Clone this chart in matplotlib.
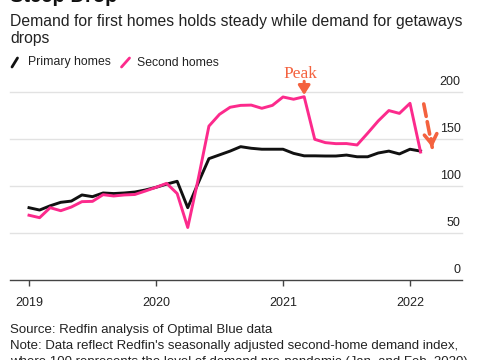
import matplotlib
matplotlib.use("Agg")
import matplotlib.pyplot as plt
import matplotlib.transforms as mtransforms
from matplotlib.lines import Line2D

# ---------------- data ----------------
months = list(range(38))  # Jan 2019 .. Feb 2022 (monthly index)
primary = [77, 74.5, 79, 82.7, 84, 90.5, 88.7, 92.6, 92, 92.6, 93.6, 95.8,
           98.6, 102, 105, 77, 103.5, 129, 133, 137, 141.7, 140, 139, 139,
           139, 134.6, 132, 132, 131.8, 131.8, 132.8, 131, 131, 135, 137, 134,
           139, 137]
second = [69, 66.4, 77, 73.8, 77.7, 83.4, 83.7, 90.8, 89.4, 90.5, 91, 94.7,
          98.6, 102.8, 92, 56, 108, 163.5, 176, 183.5, 185.5, 185.8, 182.4, 185.5,
          194.4, 192, 194.7, 149.5, 146, 144.9, 145, 143.5, 156, 169, 180, 177,
          187.7, 136]
year_ticks = [0, 12, 24, 36]
year_labels = ["2019", "2020", "2021", "2022"]
y_ticks = [0, 50, 100, 150, 200]
series_names = ["Primary homes", "Second homes"]

title = "Steep Drop"
subtitle_lines = ["Demand for first homes holds steady while demand for getaways",
                  "drops"]
source_lines = ["Source: Redfin analysis of Optimal Blue data",
                "Note: Data reflect Redfin's seasonally adjusted second-home demand index,",
                "where 100 represents the level of demand pre-pandemic (Jan. and Feb. 2020)"]

# ---------------- style ----------------
BLACK = "#111111"
PINK = "#fc2a8c"
CORAL = "#f4623f"
GRID = "#e2e2e2"
TXT = "#222222"
plt.rcParams["font.family"] = ["Liberation Sans", "DejaVu Sans"]

W, H = 480, 360
fig = plt.figure(figsize=(4.8, 3.6), dpi=100)

def fx(px):
    return px / W

def fy(py):
    return 1 - py / H

ax_left, ax_right, ax_top, ax_bottom = 10, 462, 91.7, 280.3
ax = fig.add_axes([fx(ax_left), fy(ax_bottom), fx(ax_right - ax_left),
                   (ax_bottom - ax_top) / H])

px_per_month = 127 / 12.0
x0 = 29
ax.set_xlim((ax_left - x0) / px_per_month, (ax_right - x0) / px_per_month)
ax.set_ylim(0, 200)

for v in y_ticks[1:]:
    ax.axhline(v, color=GRID, lw=1.0, zorder=0, clip_on=False)

ax.plot(months, primary, color=BLACK, lw=2.1, solid_joinstyle="round", zorder=3)
ax.plot(months, second, color=PINK, lw=2.1, solid_joinstyle="round", zorder=4)

for s in ["top", "right", "left"]:
    ax.spines[s].set_visible(False)
ax.spines["bottom"].set_color("#444444")
ax.spines["bottom"].set_linewidth(1.0)

ax.set_xticks(year_ticks)
ax.set_xticklabels(year_labels)
ax.tick_params(axis="x", length=4, width=1, color="#444444", pad=8,
               labelsize=9, labelcolor=TXT)
ax.set_yticks([])

# y labels above gridlines on the right
trans = mtransforms.offset_copy(ax.get_yaxis_transform(), fig=fig, x=-1, y=5, units="points")
for v in y_ticks:
    ax.text(1.0, v, str(v), transform=trans, ha="right", va="baseline",
            fontsize=9, color=TXT)

# Peak annotation
ax.annotate("", xy=(26.0, 196.5), xytext=(26.0, 211), annotation_clip=False,
            arrowprops=dict(arrowstyle="-|>,head_length=0.55,head_width=0.35",
                            color=CORAL, lw=2.2, shrinkA=0, shrinkB=0))
ax.text(25.6, 215, "Peak", color=CORAL, fontsize=12.5, ha="center", va="baseline",
        family=["Liberation Serif", "DejaVu Serif"], clip_on=False)

# dashed drop arrow
ax.annotate("", xy=(38.1, 141), xytext=(37.3, 187), annotation_clip=False,
            arrowprops=dict(arrowstyle="-", color=CORAL, lw=2.6,
                            linestyle=(0, (3.5, 1.5)), shrinkA=0, shrinkB=0))
ax.annotate("", xy=(38.1, 141), xytext=(38.0, 150), annotation_clip=False,
            arrowprops=dict(arrowstyle="->,head_length=0.7,head_width=0.45",
                            color=CORAL, lw=2.6, shrinkA=0, shrinkB=0))

# legend (slanted markers)
for (x1, x2), name, col, tx in [((12, 17.5), series_names[0], BLACK, 28),
                                ((121.5, 129.5), series_names[1], PINK, 137)]:
    fig.add_artist(Line2D([fx(x1), fx(x2)], [fy(67), fy(58)], color=col, lw=2.0,
                          transform=fig.transFigure, solid_capstyle="round"))
    fig.text(fx(tx), fy(62.5), name, fontsize=8.8, color=TXT, va="center", ha="left")

# titles
fig.text(fx(10), fy(2), title, fontsize=14.5, fontweight="bold", color="#111111",
         va="baseline", ha="left")
for line, base in zip(subtitle_lines, [26, 43]):
    fig.text(fx(10), fy(base), line, fontsize=11.3, color=TXT, va="baseline", ha="left")
for line, base in zip(source_lines, [333, 349, 365]):
    fig.text(fx(10), fy(base), line, fontsize=9.5, color=TXT, va="baseline", ha="left")

fig.savefig("out.png", dpi=100, facecolor="white")
